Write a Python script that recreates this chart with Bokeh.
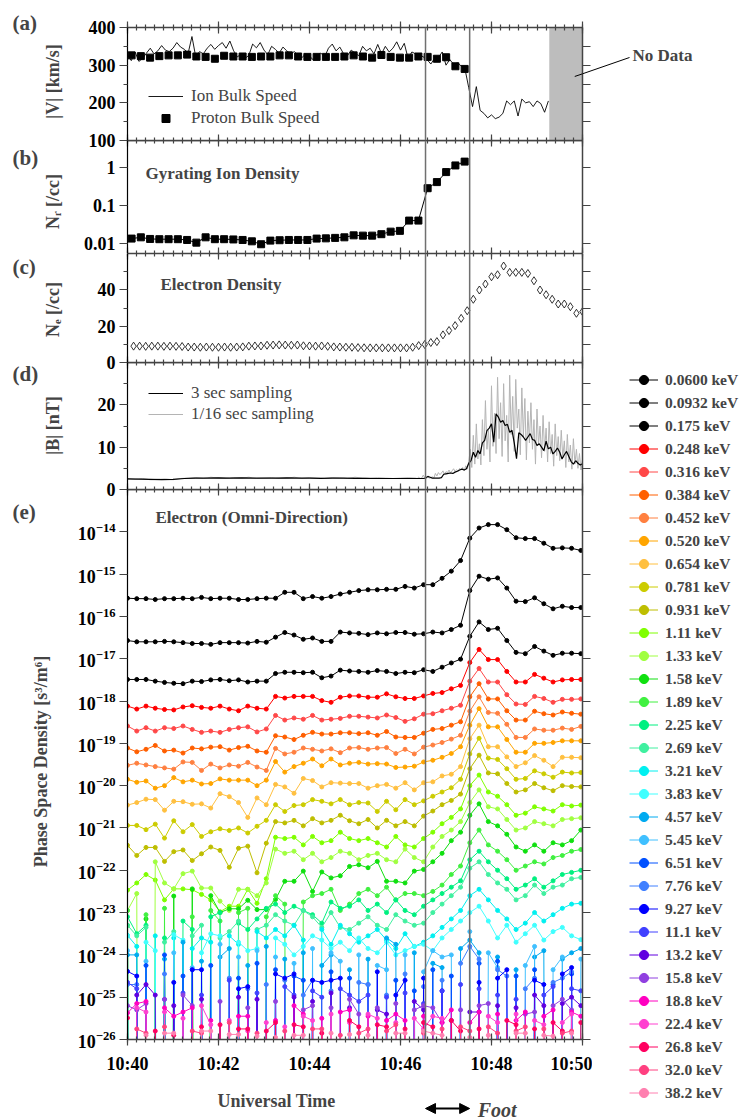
import numpy as np
from bokeh.plotting import figure
from bokeh.layouts import column, row
from bokeh.models import (Range1d, LinearAxis, LogAxis, FixedTicker, Span, Label,
                          Legend, LegendItem, BoxAnnotation, Arrow, NormalHead)
from bokeh.core.properties import value
from bokeh.embed import file_html
from bokeh.resources import INLINE

FONT = "Liberation Serif"

# ------------------------------------------------------------------ time axis
# time in minutes after 10:00 UT
x_ticks = [40, 42, 44, 46, 48, 50]
x_tick_labels = {40: "10:40", 42: "10:42", 44: "10:44", 46: "10:46", 48: "10:48", 50: "10:50"}
x_minor = [round(40 + 0.2 * k, 2) for k in range(51)]
foot_start, foot_end = 46.55, 47.52
no_data_start = 49.27

# ------------------------------------------------------------------ panel (a)
ion_t = [40 + k / 12.0 for k in range(112)]          # 5 s samples
ion_speed = [328, 312, 335, 310, 318, 332, 345, 330, 338, 352, 340, 336,
             345, 360, 348, 342, 332, 376, 322, 336, 330, 345, 355, 342,
             352, 360, 345, 364, 338, 322, 330, 318, 326, 356, 346, 360,
             340, 328, 350, 342, 332, 348, 338, 330, 336, 326, 320, 330,
             324, 314, 326, 332, 322, 345, 356, 338, 348, 330, 325, 340,
             332, 325, 350, 338, 345, 330, 355, 330, 350, 335, 345, 362,
             340, 358, 318, 335, 330, 328, 322, 315, 303, 318, 320, 335,
             300, 315, 302, 306, 298, 290,
             240, 190, 243, 180, 172, 160, 168, 158, 162, 172, 205, 195, 205,
             165, 210, 200, 203, 190, 205, 198, 175, 205]
prot_t = [40.09 + k * 12.2 / 60 for k in range(37)]  # 12.2 s samples
proton_speed = [326, 324, 320, 324, 326, 326, 328, 323, 322, 317,
                325, 323, 323, 322, 323, 323, 326, 326, 323, 322,
                322, 322, 322, 323, 326, 323, 320, 327, 322, 320,
                320, 323, 322, 317, 321, 297, 290]

# ------------------------------------------------------------------ panel (b)
gyro_density = [0.0138, 0.0149, 0.0135, 0.0133, 0.0133, 0.0133, 0.0127, 0.0108, 0.0149, 0.0133,
                0.0133, 0.0131, 0.0127, 0.0117, 0.0098, 0.0122, 0.0125, 0.0127, 0.0127, 0.0127,
                0.0138, 0.0140, 0.0144, 0.0149, 0.0168, 0.0165, 0.0165, 0.018, 0.021, 0.022,
                0.041, 0.041, 0.29, 0.42, 0.77, 1.15, 1.45]

# ------------------------------------------------------------------ panel (c)
ne_t = [40 + (k + 1) * 8 / 60.0 for k in range(75)]  # 8 s samples
ne = [9.0, 9.0, 8.9, 9.0, 9.0, 8.9, 9.0, 8.9, 8.8,
      8.5, 8.5, 8.4, 8.5, 8.4, 8.4, 8.5, 8.4, 8.5, 8.6,
      9.0, 9.1, 9.1,
      9.5, 9.6, 9.7, 9.6, 9.5, 9.6,
      9.2, 9.1, 9.0, 9.1, 8.9,
      8.6, 8.5, 8.4, 8.4, 8.2, 8.1,
      8.05, 8.05, 8.05, 8.05, 8.05, 8.05, 8.05, 8.4, 9.3, 9.9, 11.0, 11.5, 15.2, 17.6,
      20.3, 24.3, 28.5, 34.8, 39.9, 43.2, 47.2, 48.3, 53.1, 49.6, 49.6, 49.6, 49.0,
      45.0, 39.9, 37.3, 34.8, 32.2, 32.2, 30.7, 27.1, 28.0]

# ------------------------------------------------------------------ panel (d)
b3_t = [40 + 0.25 * k for k in range(26)] + [46.3 + 0.05 * k for k in range(75)]
b_3sec = [2.5, 2.45, 2.4, 2.35, 2.4, 2.6, 2.7, 2.7, 2.75, 2.7, 2.75, 2.7, 2.7, 2.7,
          2.75, 2.7, 2.7, 2.65, 2.7, 2.7, 2.65, 2.65, 2.6, 2.6, 2.6, 2.6,
          2.6, 2.6, 2.6, 2.6, 2.6, 2.7,
          3.1, 2.9, 2.7, 2.7, 2.7,
          2.7, 2.8, 3.6, 3.7, 3.8,
          3.9, 3.8, 4.1, 4.3, 4.6,
          4.8, 4.6, 4.9, 6.2, 6.8,
          8.8, 7.6, 9.2, 8.4, 11.0,
          11.6, 13.9, 14.5, 15.5, 11.2,
          17.9, 17.1, 15.9, 16.3, 15.1,
          15.4, 13.5, 14.0, 11.0, 7.3,
          13.4, 13.0, 12.4, 11.6, 12.4,
          13.2, 11.8, 11.6, 10.4, 10.8,
          10.0, 9.2, 11.4, 9.6, 10.0,
          8.4, 9.0, 9.8, 8.8, 7.2,
          8.2, 9.0, 7.8, 6.6, 6.0,
          6.8, 6.2, 5.8, 6.1]
bhf_t = [40 + k / 6.0 for k in range(38)] + [46.3333 + k / 30.0 for k in range(111)]
b_16hz = [2.5, 2.4, 2.6, 2.3, 2.4, 2.5, 2.3, 2.6, 2.7, 2.8, 2.6, 2.9, 2.7, 2.6, 2.8, 2.7,
          2.9, 2.6, 2.7, 2.8, 2.6, 2.7, 2.9, 2.6, 2.8, 2.7, 2.6, 2.8, 2.7, 2.6, 2.9, 2.7,
          2.6, 2.8, 2.7, 2.6, 2.7, 2.8,
          2.7, 2.6, 2.9, 2.6, 2.7, 3.4, 2.8, 2.6, 2.9, 2.7,
          2.8, 3.0, 2.7, 3.8, 3.2, 4.0, 3.5, 3.9, 4.4, 3.6,
          4.2, 4.0, 4.6, 3.9, 4.4, 4.9, 4.2, 4.7, 4.3, 5.0,
          4.6, 5.2, 4.4, 5.6, 4.8, 6.5,
          9.5, 5.2, 12.8, 6.0, 15.5, 7.2, 10.8, 5.8, 16.5, 8.0,
          21.0, 9.5, 14.0, 6.5, 24.5, 10.2, 18.0, 8.5, 26.5, 12.0,
          20.5, 7.8, 25.0, 11.5, 17.5, 6.5, 27.0, 13.0, 22.0, 9.0,
          26.0, 14.5, 19.0, 8.2, 24.0, 12.5, 21.5, 7.0, 18.5, 11.0,
          20.5, 9.5, 16.5, 6.0, 19.0, 10.5, 15.0, 7.5, 17.5, 9.0,
          14.5, 6.5, 16.0, 8.5, 13.0, 5.5, 15.5, 8.0, 12.5, 6.8,
          14.0, 7.5, 11.5, 5.2, 13.0, 6.5, 10.5, 4.8, 12.0, 6.0,
          9.5, 5.0, 8.5, 4.6, 7.0]

# ------------------------------------------------------------------ panel (e)
psd_t = [40 + i * 12.2 / 60 for i in range(50)]      # 12.2 s samples
energies = ["0.0600", "0.0932", "0.175", "0.248", "0.316", "0.384", "0.452", "0.520",
            "0.654", "0.781", "0.931", "1.11", "1.33", "1.58", "1.89", "2.25", "2.69",
            "3.21", "3.83", "4.57", "5.45", "6.51", "7.76", "9.27", "11.1", "13.2",
            "15.8", "18.8", "22.4", "26.8", "32.0", "38.2"]
colors = ["#000000", "#000000", "#000000", "#FF0000", "#FF4848", "#FF5F00", "#FF8040",
          "#FFA500", "#FFC040", "#CCCC00", "#BEBE00", "#80FF00", "#A0FF40", "#10E010",
          "#40F040", "#00F080", "#40F0A0", "#00F0F0", "#40FFFF", "#00AAF0", "#40C0FF",
          "#0050FF", "#4080FF", "#0000FF", "#4040FF", "#6000E0", "#9040E0", "#FF00C0",
          "#FF40D0", "#FF0060", "#FF4080", "#FF80B0"]

# log10 of phase space density [s^3/m^6]; None = no counts
psd_e01 = [-15.57, -15.58, -15.58, -15.60, -15.58, -15.58, -15.57, -15.58, -15.55, -15.58, -15.57, -15.57, -15.60, -15.60, -15.58, -15.57, -15.57, -15.43, -15.43, -15.58, -15.53, -15.57, -15.53, -15.47, -15.43, -15.39, -15.37, -15.37, -15.36, -15.36, -15.29, -15.33, -15.25, -15.25, -15.10, -14.93, -14.68, -14.15, -13.91, -13.83, -13.83, -13.95, -14.14, -14.16, -14.16, -14.27, -14.39, -14.38, -14.39, -14.44]
psd_e02 = [-16.57, -16.60, -16.60, -16.60, -16.59, -16.60, -16.62, -16.64, -16.64, -16.66, -16.62, -16.62, -16.62, -16.63, -16.59, -16.61, -16.49, -16.38, -16.44, -16.54, -16.51, -16.59, -16.59, -16.37, -16.39, -16.40, -16.43, -16.39, -16.41, -16.38, -16.38, -16.42, -16.41, -16.37, -16.39, -16.31, -16.21, -15.39, -15.05, -15.12, -15.09, -15.33, -15.64, -15.65, -15.56, -15.70, -15.82, -15.76, -15.79, -15.79]
psd_e03 = [-17.49, -17.49, -17.49, -17.53, -17.56, -17.58, -17.59, -17.53, -17.54, -17.50, -17.49, -17.52, -17.50, -17.55, -17.53, -17.53, -17.35, -17.32, -17.32, -17.33, -17.32, -17.45, -17.41, -17.27, -17.29, -17.30, -17.32, -17.28, -17.30, -17.35, -17.32, -17.33, -17.26, -17.30, -17.20, -17.10, -17.01, -16.47, -16.13, -16.31, -16.28, -16.57, -16.85, -16.88, -16.71, -16.82, -16.92, -16.87, -16.87, -16.88]
psd_e04 = [-18.12, -18.19, -18.12, -18.17, -18.20, -18.21, -18.14, -18.11, -18.15, -18.17, -18.12, -18.19, -18.23, -18.12, -18.17, -18.19, -17.89, -17.93, -17.89, -17.89, -17.89, -17.99, -18.03, -17.91, -17.88, -17.88, -17.91, -17.91, -17.83, -17.90, -17.94, -17.94, -17.88, -17.82, -17.80, -17.71, -17.63, -17.09, -16.78, -17.02, -17.02, -17.30, -17.55, -17.55, -17.37, -17.46, -17.55, -17.50, -17.49, -17.49]
psd_e05 = [-18.59, -18.71, -18.63, -18.71, -18.63, -18.65, -18.59, -18.67, -18.74, -18.71, -18.74, -18.67, -18.63, -18.61, -18.73, -18.66, -18.34, -18.45, -18.40, -18.43, -18.34, -18.45, -18.43, -18.41, -18.36, -18.36, -18.38, -18.40, -18.33, -18.39, -18.48, -18.42, -18.31, -18.30, -18.23, -18.17, -18.10, -17.53, -17.23, -17.55, -17.55, -17.85, -18.07, -18.08, -17.89, -17.94, -18.03, -17.96, -17.96, -17.95]
psd_e06 = [-19.11, -19.20, -19.14, -19.05, -19.18, -19.16, -19.23, -19.11, -19.13, -19.09, -19.08, -19.16, -19.10, -19.07, -19.18, -19.21, -18.82, -18.85, -18.91, -18.81, -18.74, -18.78, -18.78, -18.75, -18.75, -18.77, -18.75, -18.81, -18.72, -18.85, -18.86, -18.86, -18.76, -18.67, -18.65, -18.57, -18.49, -17.90, -17.59, -17.95, -17.95, -18.23, -18.45, -18.45, -18.24, -18.30, -18.33, -18.26, -18.29, -18.31]
psd_e07 = [-19.52, -19.47, -19.51, -19.55, -19.58, -19.61, -19.44, -19.45, -19.64, -19.49, -19.58, -19.51, -19.54, -19.45, -19.56, -19.64, -19.12, -19.25, -19.21, -19.11, -19.14, -19.18, -19.13, -19.22, -19.11, -19.10, -19.14, -19.11, -19.10, -19.24, -19.14, -19.25, -19.09, -19.04, -18.98, -18.90, -18.81, -18.24, -17.90, -18.27, -18.29, -18.55, -18.86, -18.86, -18.66, -18.69, -18.69, -18.64, -18.67, -18.60]
psd_e08 = [-19.85, -19.92, -19.89, -20.06, -20.00, -19.81, -19.91, -19.87, -19.96, -19.95, -19.84, -19.87, -19.87, -19.87, -20.00, -19.87, -19.43, -19.68, -19.55, -19.47, -19.37, -19.53, -19.37, -19.51, -19.47, -19.45, -19.49, -19.48, -19.49, -19.57, -19.56, -19.54, -19.44, -19.40, -19.33, -19.24, -19.08, -18.57, -18.18, -18.61, -18.61, -18.91, -19.21, -19.21, -19.00, -19.00, -18.98, -18.94, -18.94, -18.94]
psd_e09 = [-20.46, -20.40, -20.32, -20.33, -20.58, -20.37, -20.38, -20.44, -20.43, -20.53, -20.19, -20.26, -20.40, -20.75, -20.29, -20.45, -19.97, -20.03, -20.18, -19.83, -19.88, -20.03, -19.93, -19.94, -19.95, -19.95, -20.06, -20.00, -19.97, -20.06, -19.93, -20.10, -19.93, -19.91, -19.77, -19.73, -19.55, -18.89, -18.57, -19.08, -19.08, -19.32, -19.55, -19.46, -19.29, -19.40, -19.55, -19.33, -19.33, -19.34]
psd_e10 = [-20.94, -20.94, -21.04, -20.91, -21.24, -20.83, -21.09, -20.92, -21.20, -21.09, -21.02, -21.06, -21.00, -21.12, -20.96, -20.82, -20.45, -20.61, -20.47, -20.45, -20.33, -20.37, -20.43, -20.33, -20.45, -20.40, -20.41, -20.61, -20.37, -20.57, -20.33, -20.45, -20.36, -20.25, -20.15, -20.05, -19.85, -19.25, -18.88, -19.35, -19.38, -19.60, -19.85, -19.83, -19.65, -19.72, -19.80, -19.68, -19.70, -19.69]
psd_e11 = [-21.41, -21.65, -21.46, -21.46, -21.79, -21.56, -21.52, -21.77, -21.61, -21.45, -21.53, -21.93, -21.48, -21.43, -22.06, -21.36, -20.85, -20.88, -20.82, -20.95, -20.78, -20.88, -20.82, -20.70, -20.83, -20.90, -20.80, -21.00, -20.82, -20.95, -20.85, -20.95, -20.72, -20.60, -20.45, -20.35, -20.20, -19.60, -19.28, -19.70, -19.72, -19.95, -20.15, -20.10, -19.95, -20.05, -20.12, -20.00, -20.02, -20.03]
psd_e12 = [-22.47, -22.30, -22.10, -22.23, -22.70, -22.44, -22.44, -22.46, -22.57, -22.70, -22.98, -22.85, -22.85, -22.45, -22.78, -22.20, -21.22, -21.25, -21.22, -21.40, -21.20, -21.35, -21.30, -21.10, -21.25, -21.30, -21.25, -21.35, -21.45, -21.20, -21.40, -21.45, -21.25, -21.10, -20.90, -20.75, -20.55, -20.00, -19.75, -20.15, -20.25, -20.45, -20.70, -20.65, -20.50, -20.55, -20.60, -20.45, -20.48, -20.46]
psd_e13 = [-22.95, -22.55, None, -21.80, -22.30, -22.44, -22.08, -22.02, -22.42, -22.42, -22.73, -22.95, -22.45, -22.45, -22.60, -22.30, -21.50, -21.60, -21.55, -21.75, -21.60, -21.80, -21.70, -21.55, -21.60, -21.75, -21.65, -21.60, -21.75, -21.80, -21.50, -21.70, -21.80, -21.45, -21.20, -21.05, -20.85, -20.40, -20.10, -20.50, -20.55, -20.80, -21.05, -21.00, -20.85, -20.90, -20.95, -20.80, -20.78, -20.76]
psd_e14 = [-23.30, None, -23.15, None, None, -22.61, None, -22.44, None, -22.60, -23.00, -22.91, -22.91, -22.71, -22.93, -22.93, -22.69, -22.26, -22.26, -22.02, -22.50, -22.04, -22.18, -22.13, -21.91, -21.87, -21.94, -21.79, -22.26, -22.26, -22.30, -22.02, -21.98, -21.80, -21.60, -21.30, -21.10, -20.70, -20.43, -20.85, -20.95, -21.15, -21.45, -21.55, -21.40, -21.55, -21.35, -21.40, -21.30, -21.05]
psd_e15 = [-22.95, None, -23.05, None, -22.90, None, None, -23.10, None, -22.95, -23.20, None, -23.00, -22.90, None, -23.10, -22.60, -22.80, None, -22.75, -22.60, -22.55, -22.45, -22.95, -22.80, -22.55, -22.45, -22.60, -22.40, -22.70, -22.55, -22.55, -22.60, -22.50, -22.35, -22.10, -21.90, -21.35, -21.05, -21.40, -21.55, -21.75, -22.00, -21.90, -21.80, -21.85, -21.70, -21.65, -21.55, -21.51]
psd_e16 = [-23.10, -23.50, -23.30, None, -23.60, None, -23.20, -23.40, None, -23.10, -23.00, None, -23.25, -23.40, -23.15, -22.90, -22.80, -23.00, -22.85, -22.95, -23.05, -23.25, -22.75, -22.90, -22.85, -22.70, -22.95, -22.80, -23.00, -22.70, -22.95, -23.05, -22.85, -22.70, -22.55, -22.40, -22.25, -21.75, -21.55, -21.80, -22.00, -22.20, -22.45, -22.35, -22.20, -22.40, -22.25, -22.10, -22.05, -22.00]
psd_e17 = [-23.30, -23.55, -23.35, None, -23.70, -23.45, None, -23.55, -23.30, None, -23.60, -23.45, -23.20, None, -23.40, -23.30, -23.05, -23.20, -23.30, -22.95, -23.10, -23.35, -23.00, -23.35, -23.40, -23.25, -23.10, -23.30, -23.40, -23.05, -23.20, -23.30, -23.25, -23.00, -22.80, -22.60, -22.40, -21.95, -21.80, -22.10, -22.30, -22.45, -22.70, -22.60, -22.35, -22.55, -22.40, -22.35, -22.20, -22.17]
psd_e18 = [-23.54, -23.80, None, -23.55, None, -23.60, None, -23.85, -23.60, -23.70, None, -23.55, -23.75, None, -23.45, -23.60, -23.40, -23.55, -23.30, -23.65, None, -23.40, -23.75, -23.30, -23.50, -23.70, -23.55, -23.40, -23.65, -23.85, -23.50, -23.80, -23.70, -23.55, -23.35, -23.15, -22.95, -22.60, -22.45, -22.70, -22.95, -23.15, -23.40, -23.25, -23.00, -23.20, -23.05, -22.90, -22.80, -22.78]
psd_e19 = [-23.55, None, -23.70, -23.90, None, -23.52, -23.65, None, -23.95, -23.50, -23.55, None, -23.70, -23.90, -23.85, None, -23.60, -23.75, -24.00, -23.80, -23.55, -23.65, -23.85, -23.70, -23.90, -23.60, -23.85, -23.95, -23.70, -24.00, -23.90, -23.80, -23.75, -23.90, -23.60, -23.40, -23.20, -23.00, -22.85, -23.20, -23.60, -23.30, -23.70, -23.50, -23.30, -23.65, -23.45, -23.35, -23.55, -23.64]
psd_e20 = [-24.00, -24.00, None, None, -24.10, None, -23.70, None, -24.15, None, -24.05, -23.85, None, -24.25, None, -23.80, None, -24.10, None, -23.95, None, -24.25, -24.00, None, -24.35, None, -24.10, None, -23.60, -23.75, None, -23.95, None, -24.20, -24.30, None, -23.85, -23.65, -23.95, None, -24.05, None, -24.35, None, -24.05, -23.90, None, -24.10, -23.95, -23.85]
psd_e21 = [-23.90, None, -24.15, None, None, -23.95, None, -24.30, None, None, -23.75, None, -24.05, None, -23.90, None, -24.05, None, -24.20, None, -23.85, None, -23.95, -24.15, None, -24.00, None, -24.25, -24.35, None, -24.00, None, -24.40, -23.90, -24.05, -24.00, None, -23.45, None, -23.95, -24.30, None, None, -24.25, -23.80, None, -24.35, -24.05, None, -24.10]
psd_e22 = [None, None, -24.25, None, -24.00, None, -24.50, None, None, -24.25, None, None, -24.55, None, -24.20, None, -24.35, None, -24.50, -24.60, None, None, -24.40, None, -24.55, None, -24.70, None, None, -24.60, None, -24.85, None, -24.35, None, -24.50, None, None, -24.20, None, -24.15, None, -24.50, None, -24.35, None, -24.70, None, -24.45, None]
psd_e23 = [-24.70, -24.70, None, None, -24.45, None, None, -24.35, None, None, None, -24.55, None, -24.80, None, -24.70, None, -24.60, None, -24.95, -24.60, None, -24.85, None, None, -24.65, -24.70, None, -24.95, None, -24.45, None, -24.75, None, -24.60, None, -24.20, -23.80, -24.10, None, -24.35, -24.50, None, -24.80, -24.55, None, -24.65, -24.55, -24.40, None]
psd_e24 = [-24.39, -24.50, None, None, None, -24.65, None, -24.35, -24.35, None, None, None, -24.80, -24.75, None, None, -24.45, -24.55, -24.45, None, -24.60, -24.65, -24.60, -24.55, None, None, None, -24.40, None, -24.95, -24.60, None, -24.55, None, -24.85, None, None, None, -24.65, None, -24.55, -24.35, None, None, -24.60, -24.70, None, -24.45, -24.30, None]
psd_e25 = [-24.65, -24.80, None, None, -25.05, None, -24.90, None, -24.95, None, None, -24.60, None, None, -24.90, None, None, -24.75, -24.95, None, -24.85, -25.00, None, -24.80, -24.95, -25.10, -24.95, None, -25.00, None, -24.90, None, -25.15, None, -24.85, None, -24.70, None, -24.80, None, -24.95, None, -25.05, None, None, -24.95, -24.75, None, -24.80, -24.85]
psd_e26 = [None, -24.95, -24.70, -24.95, None, -25.20, None, None, -25.05, None, None, None, -25.00, None, -25.05, None, None, None, -25.00, None, -25.10, None, -24.90, None, -25.25, None, None, -25.30, -25.40, None, None, -25.10, -25.30, None, None, -25.55, None, -25.35, -25.35, None, -25.20, None, -25.25, None, -24.95, -25.20, None, -25.15, -25.00, -25.20]
psd_e27 = [-25.20, -25.30, -25.15, None, -25.05, None, -24.95, -25.20, None, None, -25.10, None, None, -25.25, None, None, -25.10, None, None, -25.30, -25.20, None, -25.25, None, -25.05, -25.40, None, -25.25, None, -25.15, None, -25.30, -25.20, -25.25, -25.60, None, -25.30, None, -25.20, -25.15, None, None, None, -25.40, -25.35, None, -25.20, -25.05, -25.30, None]
psd_e28 = [-25.37, -25.15, -25.10, None, -25.25, -25.45, -25.35, -25.25, None, -25.55, None, None, -25.45, -25.45, None, None, -25.55, None, -25.20, -25.40, None, -25.50, None, -25.35, -25.30, None, -25.45, None, -25.55, -25.40, -25.55, None, -25.45, None, -25.60, -25.30, None, -25.60, -25.35, None, -25.40, None, -25.55, -25.35, None, -25.45, -25.30, None, -25.35, -25.45]
psd_e29 = [None, -25.25, -25.35, None, -25.35, None, -25.50, None, -25.20, -25.65, None, -25.55, None, -25.80, None, -25.60, None, -25.70, None, -25.45, -25.55, None, -25.40, None, -25.60, None, -25.40, -25.50, None, -25.60, None, -25.50, -25.75, -25.45, -25.50, None, None, None, None, -25.45, -25.60, None, -25.40, None, -25.55, -25.65, None, -25.60, -25.40, None]
psd_e30 = [-25.49, None, None, -25.80, None, -25.90, None, None, -25.70, None, -25.65, None, -25.75, -25.75, None, -25.80, -25.60, None, -25.65, -25.70, None, -25.85, None, None, -25.55, -25.70, None, -25.65, -25.70, None, -25.75, None, -25.60, -25.70, None, -25.55, -25.80, None, -25.75, None, None, -25.55, -25.65, None, -25.75, None, -25.60, -25.80, None, -25.60]
psd_e31 = [None, -25.75, -25.85, None, -25.70, None, None, -25.80, -25.85, None, None, -25.60, None, None, -25.85, None, None, -25.80, None, None, -25.75, -25.75, None, -25.90, None, -25.85, -25.75, None, -25.80, -25.65, None, None, -25.85, None, -25.75, None, -25.70, -25.80, None, -25.70, -25.85, None, -25.80, -25.70, None, -25.75, None, -25.85, -25.80, None]
psd_e32 = [None, None, -25.90, None, -25.85, -25.85, None, None, -25.80, -25.80, None, -25.88, -25.88, None, -25.92, None, -25.95, None, -25.90, -25.90, None, None, -25.85, None, -25.88, None, -25.90, None, None, -25.85, -25.85, None, -25.80, -25.85, -25.90, None, None, -25.95, None, -25.90, None, None, -25.85, -25.85, None, -25.90, -25.92, None, -25.85, None]

psd_log = [psd_e01, psd_e02, psd_e03, psd_e04, psd_e05, psd_e06, psd_e07, psd_e08,
           psd_e09, psd_e10, psd_e11, psd_e12, psd_e13, psd_e14, psd_e15, psd_e16,
           psd_e17, psd_e18, psd_e19, psd_e20, psd_e21, psd_e22, psd_e23, psd_e24,
           psd_e25, psd_e26, psd_e27, psd_e28, psd_e29, psd_e30, psd_e31, psd_e32]

bad = [(energies[i], len(s)) for i, s in enumerate(psd_log) if len(s) != len(psd_t)]
if bad:
    raise ValueError("length mismatch: %s" % bad)

ZERO_FLOOR = 1e-80   # zero-count samples are drawn as drops off the bottom of the log axis

# ------------------------------------------------------------------ layout constants
AX = "#444444"
x_range = Range1d(40, 50)
STRIP_W = 66          # left strip: panel letters and y titles
LEFT_B = 61           # left border of every panel figure
FRAME_W = 455
RIGHT_B = 10
PANEL_W = LEFT_B + FRAME_W + RIGHT_B
SIDE_W = 742 - STRIP_W - PANEL_W
FR_A, FR_B, FR_C, FR_D, FR_E = 113, 113, 109, 127, 551
TOP_A = 27
OV = 10               # overlap that lets boundary tick labels show through the next panel
BOT_E = 36
H_X = 43
TOTAL_H = TOP_A + FR_A + FR_B + FR_C + FR_D + FR_E + BOT_E + H_X


def make_panel(frame_h, y_range, log, mb_top=0, mb_bottom=0, overlap_top=False):
    kw = {}
    if overlap_top:
        kw["margin"] = (-OV, 0, 0, 0)
    p = figure(width=PANEL_W, height=frame_h + mb_top + mb_bottom, x_range=x_range,
               y_range=y_range, x_axis_type=None,
               y_axis_type=("log" if log else "linear"),
               output_backend="svg", toolbar_location=None, title=None,
               min_border_left=LEFT_B, min_border_right=RIGHT_B,
               min_border_top=mb_top, min_border_bottom=mb_bottom, **kw)
    p.outline_line_color = None
    p.ygrid.grid_line_color = None
    p.background_fill_color = None
    p.border_fill_color = None
    return p


def style_left(p, ticks, minor, overrides=None):
    ax = p.yaxis[0]
    ax.ticker = FixedTicker(ticks=ticks, minor_ticks=minor)
    ax.major_label_text_font = FONT
    ax.major_label_text_font_style = "bold"
    ax.major_label_text_font_size = "18px"
    ax.major_label_text_color = "black"
    ax.major_label_standoff = 4
    ax.major_tick_in = 0
    ax.major_tick_out = 8
    ax.minor_tick_in = 0
    ax.minor_tick_out = 4
    ax.axis_line_color = "black"
    ax.axis_line_width = 1.2
    ax.major_tick_line_color = AX
    ax.minor_tick_line_color = AX
    ax.major_tick_line_width = 1.2
    ax.minor_tick_line_width = 1.2
    if overrides:
        ax.major_label_overrides = overrides


def add_right(p, ticks, log):
    cls = LogAxis if log else LinearAxis
    ax = cls(ticker=FixedTicker(ticks=ticks, minor_ticks=[]))
    ax.major_label_text_color = None
    ax.major_label_standoff = 0
    ax.major_tick_in = 0
    ax.major_tick_out = 8
    ax.minor_tick_line_color = None
    ax.axis_line_color = AX
    ax.axis_line_width = 1.5
    ax.major_tick_line_color = AX
    ax.major_tick_line_width = 1.2
    p.add_layout(ax, "right")


def add_x(p, side, out, labels=False):
    ax = LinearAxis(ticker=FixedTicker(ticks=x_ticks, minor_ticks=x_minor))
    ax.major_tick_in = 6
    ax.major_tick_out = out
    ax.minor_tick_in = 3
    ax.minor_tick_out = min(out, 3)
    ax.axis_line_color = AX
    ax.axis_line_width = 1.5
    ax.major_tick_line_color = AX
    ax.minor_tick_line_color = AX
    ax.major_tick_line_width = 1.2
    ax.minor_tick_line_width = 1.2
    if labels:
        ax.major_label_overrides = x_tick_labels
        ax.major_label_text_font = FONT
        ax.major_label_text_font_style = "bold"
        ax.major_label_text_font_size = "18px"
        ax.major_label_text_color = "black"
        ax.major_label_standoff = 8
    else:
        ax.major_label_text_color = None
        ax.major_label_standoff = 0
    p.add_layout(ax, side)


def add_foot_lines(p):
    for loc in (foot_start, foot_end):
        p.add_layout(Span(location=loc, dimension="height", line_color="#707070",
                          line_width=1.5))


def panel_title(p, text, x, y):
    p.add_layout(Label(x=x, y=y, x_units="screen", y_units="screen", text=text,
                       text_font=FONT, text_font_style="bold", text_font_size="17px",
                       text_baseline="middle", text_align="left"))


# ------------------------------------------------------------------ (a)
fa = make_panel(FR_A, Range1d(100, 400), False, mb_top=TOP_A, mb_bottom=OV)
style_left(fa, [100, 200, 300, 400], [150, 250, 350])
add_right(fa, [150, 200, 250, 300, 350], False)
add_x(fa, "above", 6)
add_x(fa, "below", 0)
fa.add_layout(BoxAnnotation(left=no_data_start, right=50, fill_color="#BDBDBD",
                            fill_alpha=1.0, line_color=None, level="underlay"))
ion_r = fa.line(ion_t, ion_speed, line_color="black", line_width=0.9)
prot_r = fa.scatter(prot_t, proton_speed, marker="square", size=7, color="black")
add_foot_lines(fa)
leg_a = Legend(items=[LegendItem(label=value("Ion Bulk Speed"), renderers=[ion_r]),
                      LegendItem(label=value("Proton Bulk Speed"), renderers=[prot_r])],
               location=(21, 12), border_line_color=None, background_fill_alpha=0,
               label_text_font=FONT, label_text_font_size="17px", glyph_width=35,
               glyph_height=20, label_height=20, spacing=2, padding=0, margin=0,
               label_standoff=8)
fa.add_layout(leg_a)
fa.add_layout(Arrow(end=None, x_start=49.83, y_start=270, x_end=50.0, y_end=277,
                    line_color="black", line_width=1))

# ------------------------------------------------------------------ (b)
fb = make_panel(FR_B, Range1d(0.0056, 5.2), True, overlap_top=True)
style_left(fb, [0.01, 0.1, 1], [], overrides={0.01: "0.01", 0.1: "0.1", 1: "1"})
add_right(fb, [0.01, 0.1, 1], True)
add_x(fb, "above", 0)
add_x(fb, "below", 0)
fb.line(prot_t, gyro_density, line_color="black", line_width=1)
fb.scatter(prot_t, gyro_density, marker="square", size=7, color="black")
add_foot_lines(fb)
panel_title(fb, "Gyrating Ion Density", 18, 80)

# ------------------------------------------------------------------ (c)
fc = make_panel(FR_C, Range1d(0, 60), False, mb_bottom=OV)
style_left(fc, [0, 20, 40], [10, 30, 50])
add_right(fc, [10, 20, 30, 40, 50], False)
add_x(fc, "above", 0)
add_x(fc, "below", 0)
fc.scatter(ne_t, ne, marker="diamond", size=8, fill_color=None, line_color="black",
           line_width=0.8)
add_foot_lines(fc)
panel_title(fc, "Electron Density", 33, 78)

# ------------------------------------------------------------------ (d)
fd = make_panel(FR_D, Range1d(0, 30), False, mb_bottom=OV, overlap_top=True)
style_left(fd, [0, 10, 20], [5, 15, 25])
add_right(fd, [5, 10, 15, 20, 25], False)
add_x(fd, "above", 0)
add_x(fd, "below", 0)
bhf_r = fd.line(bhf_t, b_16hz, line_color="#B4B4B4", line_width=1)
b3_r = fd.line(b3_t, b_3sec, line_color="black", line_width=1.2)
add_foot_lines(fd)
leg_d = Legend(items=[LegendItem(label=value("3 sec sampling"), renderers=[b3_r]),
                      LegendItem(label=value("1/16 sec sampling"), renderers=[bhf_r])],
               location=(21, 65), border_line_color=None, background_fill_alpha=0,
               label_text_font=FONT, label_text_font_size="17px", glyph_width=35,
               glyph_height=20, label_height=20, spacing=1, padding=0, margin=0,
               label_standoff=8)
fd.add_layout(leg_d)

# ------------------------------------------------------------------ (e)
fe = make_panel(FR_E, Range1d(1e-26, 1e-13), True, mb_bottom=BOT_E, overlap_top=True)
decades = [10.0 ** k for k in range(-26, -13)]
style_left(fe, decades, [])
add_right(fe, decades, True)
add_x(fe, "above", 0)
add_x(fe, "below", 6, labels=True)
for logs, col in zip(psd_log, colors):
    y_line = [10.0 ** v if v is not None else ZERO_FLOOR for v in logs]
    xs = [t for t, v in zip(psd_t, logs) if v is not None]
    ys = [10.0 ** v for v in logs if v is not None]
    fe.line(psd_t, y_line, line_color=col, line_width=1)
    fe.scatter(xs, ys, marker="circle", size=4, color=col)
add_foot_lines(fe)
panel_title(fe, "Electron (Omni-Direction)", 28, 522)

# ------------------------------------------------------------------ bottom strip: x title and foot marker
fx = figure(width=PANEL_W, height=H_X, x_range=x_range, y_range=Range1d(0, H_X),
            x_axis_type=None, y_axis_type=None, output_backend="svg",
            toolbar_location=None, title=None, min_border_left=LEFT_B,
            min_border_right=RIGHT_B, min_border_top=0, min_border_bottom=0)
fx.outline_line_color = None
fx.add_layout(Label(x=90, y=19, x_units="screen", y_units="screen", text="Universal Time",
                    text_font=FONT, text_font_style="bold", text_font_size="18px",
                    text_baseline="middle"))
fx.add_layout(Arrow(start=NormalHead(size=10, fill_color="black", line_color="black"),
                    end=NormalHead(size=10, fill_color="black", line_color="black"),
                    x_start=foot_start, y_start=11, x_end=foot_end, y_end=11,
                    line_width=2, line_color="black"))
fx.add_layout(Label(x=foot_end, y=10, x_offset=8, text="Foot", text_font=FONT,
                    text_font_style="bold italic", text_font_size="20px",
                    text_baseline="middle"))

# ------------------------------------------------------------------ left strip: letters and y titles
strip = figure(width=STRIP_W, height=TOTAL_H, x_range=Range1d(0, STRIP_W),
               y_range=Range1d(0, TOTAL_H), x_axis_type=None, y_axis_type=None,
               output_backend="svg", toolbar_location=None, title=None, min_border=0)
strip.outline_line_color = None
for txt, yc in [("(a)", 22.5), ("(b)", 157), ("(c)", 266.5), ("(d)", 373.5), ("(e)", 511.5)]:
    strip.add_layout(Label(x=12, y=TOTAL_H - yc, x_units="screen", y_units="screen",
                           text=txt, text_font=FONT, text_font_style="bold",
                           text_font_size="21px", text_baseline="middle", text_align="left"))
y_titles = [("|V| [km/s]", 52, 81), ("N\u1d63 [/cc]", 52.5, 201), ("N\u2091 [/cc]", 52, 309),
            ("|B| [nT]", 52.5, 425), ("Phase Space Density [s\u00b3/m\u2076]", 40, 761)]
for txt, xc, yc in y_titles:
    strip.add_layout(Label(x=xc, y=TOTAL_H - yc, x_units="screen", y_units="screen",
                           text=txt, angle=90, angle_units="deg", text_font=FONT,
                           text_font_style="bold", text_font_size="18px",
                           text_baseline="middle", text_align="center"))

# ------------------------------------------------------------------ right column: "No Data" note and energy legend
H_NOTE = TOP_A + FR_A + FR_B + FR_C
NOTE_SHIFT = RIGHT_B   # the note overlaps the transparent right border of panel (a)
note = figure(width=SIDE_W + NOTE_SHIFT, height=H_NOTE, x_range=Range1d(0, SIDE_W + NOTE_SHIFT),
              y_range=Range1d(0, H_NOTE), x_axis_type=None, y_axis_type=None,
              output_backend="svg", toolbar_location=None, title=None, min_border=0,
              margin=(0, 0, 0, -NOTE_SHIFT))
note.outline_line_color = None
note.background_fill_color = None
note.border_fill_color = None
note.add_layout(Label(x=40 + NOTE_SHIFT, y=H_NOTE - 55, x_units="screen", y_units="screen",
                      text="No Data", text_font=FONT, text_font_style="bold",
                      text_font_size="17px", text_baseline="middle"))
note.add_layout(Arrow(end=None, x_start=0, y_start=H_NOTE - 73.3, x_end=37 + NOTE_SHIFT,
                      y_end=H_NOTE - 57, start_units="screen", end_units="screen",
                      line_color="black", line_width=1))

H_LEG = TOTAL_H - H_NOTE
flegend = figure(width=SIDE_W, height=H_LEG, output_backend="svg",
                 toolbar_location=None, x_axis_type=None, y_axis_type=None, title=None,
                 x_range=Range1d(100, 101), y_range=Range1d(0, 1), min_border=0)
flegend.outline_line_color = None
items = []
for e, col, logs in zip(energies, colors, psd_log):
    xs = [t for t, v in zip(psd_t, logs) if v is not None]
    ys = [10.0 ** v for v in logs if v is not None]
    lr = flegend.line(xs, ys, line_color=col, line_width=1)
    sr = flegend.scatter(xs, ys, marker="circle", size=9, color=col)
    items.append(LegendItem(label=value(e + " keV"), renderers=[lr, sr]))
leg_e = Legend(items=items, location=(37, 15), border_line_color=None,
               background_fill_alpha=0, label_text_font=FONT,
               label_text_font_style="bold", label_text_font_size="15.5px",
               glyph_width=29, glyph_height=23, label_height=23, spacing=0,
               padding=0, margin=0, label_standoff=7)
flegend.add_layout(leg_e)

layout = row(strip,
             column(fa, fb, fc, fd, fe, fx),
             column(note, flegend))
open("out.html", "w").write(file_html(layout, INLINE))
